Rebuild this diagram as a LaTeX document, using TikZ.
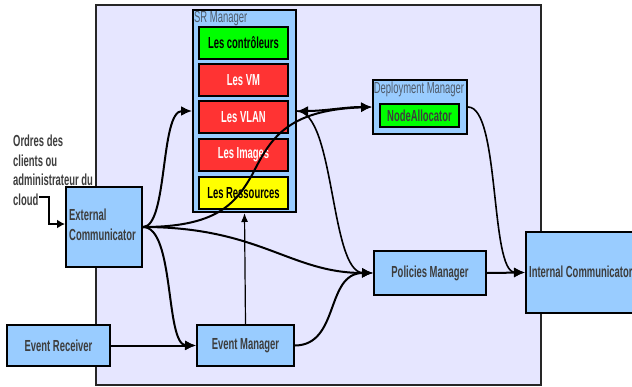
\documentclass[tikz,border=0pt]{standalone}
\usepackage{fontspec}
\setmainfont{Liberation Sans}[FakeStretch=0.59]
\usetikzlibrary{arrows.meta}

\definecolor{panel}{HTML}{E6E6FF}
\definecolor{boxblue}{HTML}{99CCFF}
\definecolor{boxred}{HTML}{FF3333}
\definecolor{boxgreen}{HTML}{00FF00}
\definecolor{boxyellow}{HTML}{FFFF00}
\definecolor{labelgray}{HTML}{3D3D3D}
\definecolor{titlegray}{HTML}{4F5B6B}

\tikzset{
  txt/.style={font=\fontsize{16}{19.5}\selectfont},
  comp/.style={txt, draw=black, line width=2pt, fill=boxblue, inner sep=0pt,
               text=labelgray, font=\fontsize{16}{19.5}\selectfont\bfseries},
  part/.style={draw=black, line width=2pt, inner sep=0pt, minimum width=89,
               minimum height=32, font=\fontsize{16}{19.5}\selectfont\bfseries},
  title/.style={txt, inner sep=0pt, text=titlegray},
  conn/.style={line width=2pt, -{Latex[length=11pt,width=10pt]}},
  midconn/.style={line width=1.6pt, -{Latex[length=11pt,width=10pt]}},
  thinconn/.style={line width=1.2pt, -{Latex[length=9pt,width=7pt]}},
}

\begin{document}
\begin{tikzpicture}[x=1pt,y=-1pt]
\useasboundingbox (0,0) rectangle (632,386);
\clip (0,0) rectangle (632,386);

% background panel
\draw[fill=panel, draw=black!85, line width=1.5pt] (96,5) rectangle (541,385);

% SR Manager with its stacked parts
\node[comp, minimum width=103, minimum height=202] (sr) at (244.5,111) {};
\node[title, anchor=north west] (srtitle) at (194,11) {SR Manager};
\node[part, fill=boxgreen, text=black] (ctrl) at (243.5,42.5) {Les contrôleurs};
\node[part, fill=boxred, text=white] (vm) at (243.5,80) {Les VM};
\node[part, fill=boxred, text=white] (vlan) at (243.5,117) {Les VLAN};
\node[part, fill=boxred, text=white] (img) at (243.5,155) {Les Images};
\node[part, fill=boxyellow, text=black] (res) at (243.5,193) {Les Ressources};

% Deployment Manager
\node[comp, minimum width=94, minimum height=54] (dep) at (420,107) {};
\node[title] (deptitle) at (419,89) {Deployment Manager};
\node[part, fill=boxgreen, text=labelgray, minimum width=79, minimum height=23] (alloc) at (419.5,115.5) {NodeAllocator};

% other components
\node[comp, minimum width=76, minimum height=80] (ext) at (104,227) {};
\node[txt, anchor=north west, align=left, inner sep=0pt, text=labelgray,
      font=\fontsize{16}{19.5}\selectfont\bfseries] (exttext) at (69,209) {External\\Communicator};
\node[comp, minimum width=103, minimum height=41] (evr) at (58.5,345.5) {Event Receiver};
\node[comp, minimum width=97, minimum height=41] (evm) at (245.5,345.5) {Event Manager};
\node[comp, minimum width=112, minimum height=44] (pol) at (430,273) {Policies Manager};
\node[comp, minimum width=124, minimum height=81] (intc) at (588,272.5) {};
\node[txt, anchor=west, inner sep=0pt, text=labelgray,
      font=\fontsize{16}{19.5}\selectfont\bfseries] (intctext) at (529,272) {Internal Communicator};

% incoming orders
\node[txt, anchor=north west, align=left, inner sep=0pt, text=labelgray,
      font=\fontsize{16}{19.5}\selectfont\bfseries] (orders) at (13,135) {Ordres des\\clients ou\\administrateur du\\cloud};
\coordinate (cloudend) at (39,197);
\draw[line width=2pt, -{Latex[length=8pt,width=9pt]}] (cloudend) -- (49,197) |- ([yshift=3pt]ext.west);

% connectors
\draw[conn] (ext.east) .. controls (168,227) and (160,111) .. (sr.west);
\draw[conn] (ext.east) .. controls (215,227) and (235,205) .. (252,175)
            .. controls (270,140) and (285,110) .. (dep.west);
\draw[conn] (ext.east) .. controls (260,227) and (290,273) .. (pol.west);
\draw[conn] (ext.east) .. controls (175,227) and (165,345) .. (evm.west);
\draw[conn] (evr.east) -- (evm.west);
\draw[thinconn] (evm.north) -- (sr.south);
\draw[conn] (evm.east) .. controls (340,345) and (325,273) .. (pol.west);
\draw[midconn] (sr.east) .. controls (335,112) and (330,272) .. (pol.west);
\draw[line width=2pt, {Latex[length=11pt,width=10pt]}-{Latex[length=11pt,width=10pt]}]
      (sr.east) .. controls (325,111) and (345,107) .. (dep.west);
\draw[midconn] (dep.east) .. controls (500,107) and (490,272) .. (intc.west);
\draw[conn] (pol.east) -- (intc.west);
\end{tikzpicture}
\end{document}
